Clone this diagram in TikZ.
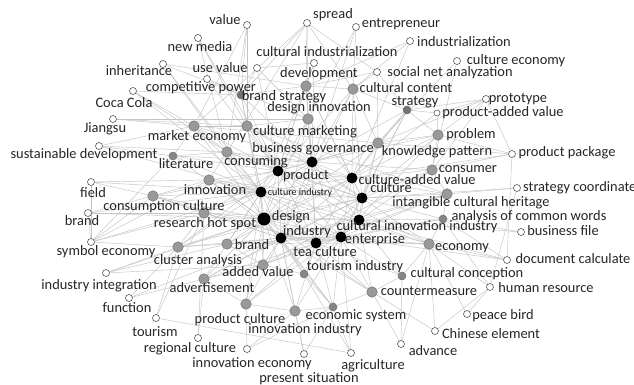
\documentclass[tikz,border=0pt]{standalone}
\usepackage{fontspec}
\setmainfont{Carlito}
\usetikzlibrary{backgrounds}
\tikzset{
  wn/.style={circle,draw=black!65,fill=white,line width=0.6pt,minimum size=7pt,inner sep=0pt},
  gn/.style={circle,draw=black!55,fill=black!40,line width=0.5pt,minimum size=10.5pt,inner sep=0pt},
  gs/.style={gn,fill=black!48,minimum size=8pt},
  bn/.style={circle,fill=black,minimum size=11pt,inner sep=0pt},
  lab/.style={font=\fontsize{14.4}{16}\selectfont,text=black!85,inner sep=0pt,text height=10pt,text depth=3pt},
  slab/.style={font=\fontsize{10}{12}\selectfont,text=black!90,inner sep=0pt,text height=7pt,text depth=2pt},
  edge/.style={draw=black!23,line width=0.45pt}
}
\begin{document}
\begin{tikzpicture}[x=1pt,y=-1pt]
\useasboundingbox (0,0) rectangle (634,385);
% ---- black core terms
\node[bn] (bg) at (312,162) {};
\node[bn] (prod) at (278,171) {};
\node[bn] (ci) at (261,192) {};
\node[bn] (cav) at (352,178) {};
\node[bn] (cul) at (362,198) {};
\node[bn,minimum size=13pt] (des) at (264,219) {};
\node[bn] (cii) at (359,220) {};
\node[bn] (ind) at (281,238) {};
\node[bn] (tea) at (316,243) {};
\node[bn] (ent) at (341,237) {};
% ---- gray terms
\node[gn] (development) at (306,86) {};
\node[gn] (designinnov) at (308,119) {};
\node[gs,fill=black!55] (brandstrategy) at (241,95) {};
\node[gn] (culturalcontent) at (353,89) {};
\node[gs,fill=black!55] (strategy) at (407,110) {};
\node[gn] (marketecon) at (194,126) {};
\node[gn] (culturemarketing) at (247,126) {};
\node[gs] (literature) at (173,156) {};
\node[gn] (consuming) at (227,152) {};
\node[gn] (knowledge) at (378,143) {};
\node[gn] (problem) at (438,135) {};
\node[gn] (consumer) at (432,170) {};
\node[gn] (innovation) at (209,180) {};
\node[gn] (consumpculture) at (153,196) {};
\node[gn] (researchhot) at (204,213) {};
\node[gn] (intangible) at (447,194) {};
\node[gs] (analysis) at (443,219) {};
\node[gn] (brandC) at (227,244) {};
\node[gn] (clusteranalysis) at (178,247) {};
\node[gn] (addedvalue) at (263,265) {};
\node[gs] (tourismind) at (304,274) {};
\node[gn] (economy) at (429,244) {};
\node[gs] (culturalconception) at (402,276) {};
\node[gn] (advertisement) at (204,279) {};
\node[gn] (countermeasure) at (372,292) {};
\node[gn] (productculture) at (246,304) {};
\node[gn] (innovind) at (295,311) {};
\node[gs] (economicsystem) at (333,307) {};
% ---- white terms
\node[wn] (value) at (247,25) {};
\node[wn] (spread) at (307,23) {};
\node[wn] (entrepreneur) at (356,27) {};
\node[wn] (industrialization) at (410,41) {};
\node[wn] (cultureeconomy) at (457,61) {};
\node[wn] (socialnet) at (377,72) {};
\node[wn] (cultind) at (314,63) {};
\node[wn] (newmedia) at (198,38) {};
\node[wn] (inheritance) at (163,64) {};
\node[wn] (usevalue) at (257,68) {};
\node[wn] (comppower) at (207,79) {};
\node[wn] (cocacola) at (133,91) {};
\node[wn] (jiangsu) at (113,119) {};
\node[wn] (sustdev) at (99,146) {};
\node[wn] (field) at (91,182) {};
\node[wn] (brandL) at (88,213) {};
\node[wn] (symbolecon) at (91,242) {};
\node[wn] (indinteg) at (106,273) {};
\node[wn] (function) at (129,298) {};
\node[wn] (tourism) at (156,318) {};
\node[wn] (regional) at (198,338) {};
\node[wn] (innovecon) at (247,349) {};
\node[wn] (presentsit) at (304,354) {};
\node[wn] (agriculture) at (351,353) {};
\node[wn] (advance) at (401,344) {};
\node[wn] (chinese) at (435,331) {};
\node[wn] (peacebird) at (467,314) {};
\node[wn] (humanres) at (490,287) {};
\node[wn] (doccalc) at (507,260) {};
\node[wn] (businessfile) at (521,232) {};
\node[wn] (stratcoord) at (517,188) {};
\node[wn] (prodpackage) at (512,154) {};
\node[wn] (prototype) at (486,99) {};
\node[wn,minimum size=6pt] (prodadded) at (437,113) {};
% ---- co-occurrence links
\begin{pgfonlayer}{background}
\fill[white] (0,0) rectangle (634,385);
\foreach \a [count=\i] in {bg,prod,ci,cav,cul,des,cii,ind,tea,ent}{
  \foreach \b [count=\j] in {bg,prod,ci,cav,cul,des,cii,ind,tea,ent}{
    \ifnum\j>\i \draw[edge] (\a) -- (\b); \fi
  }
}
\foreach \a/\b in {
 development/bg,development/prod,development/cav,development/ci,development/cul,
 designinnov/bg,designinnov/prod,designinnov/des,designinnov/cav,designinnov/ind,
 brandstrategy/prod,brandstrategy/ci,brandstrategy/des,brandstrategy/bg,
 culturalcontent/bg,culturalcontent/cav,culturalcontent/cul,culturalcontent/prod,
 strategy/cav,strategy/cul,strategy/bg,strategy/ent,
 marketecon/prod,marketecon/ci,marketecon/des,marketecon/bg,
 culturemarketing/bg,culturemarketing/prod,culturemarketing/ci,culturemarketing/cul,
 literature/ci,literature/des,literature/prod,
 consuming/bg,consuming/prod,consuming/ci,consuming/des,consuming/cul,
 knowledge/bg,knowledge/cav,knowledge/cul,knowledge/cii,knowledge/prod,
 problem/cav,problem/cul,problem/bg,problem/ent,
 consumer/cav,consumer/cul,consumer/cii,consumer/bg,
 innovation/ci,innovation/des,innovation/prod,innovation/ind,innovation/cul,
 consumpculture/ci,consumpculture/des,consumpculture/prod,consumpculture/ind,
 researchhot/ci,researchhot/des,researchhot/ind,researchhot/prod,researchhot/tea,
 intangible/cul,intangible/cii,intangible/ent,intangible/cav,intangible/tea,
 analysis/cii,analysis/ent,analysis/cul,analysis/tea,
 brandC/des,brandC/ind,brandC/ci,brandC/tea,brandC/ent,
 clusteranalysis/des,clusteranalysis/ci,clusteranalysis/ind,clusteranalysis/prod,
 addedvalue/des,addedvalue/ind,addedvalue/tea,addedvalue/ci,addedvalue/ent,
 tourismind/ind,tourismind/tea,tourismind/ent,tourismind/des,
 economy/cii,economy/ent,economy/cul,economy/tea,economy/ind,
 culturalconception/ent,culturalconception/cii,culturalconception/tea,
 advertisement/des,advertisement/ind,advertisement/ci,advertisement/tea,
 countermeasure/ent,countermeasure/tea,countermeasure/cii,countermeasure/ind,
 productculture/des,productculture/ind,productculture/tea,productculture/ci,
 innovind/ind,innovind/tea,innovind/des,innovind/ent,
 economicsystem/ind,economicsystem/tea,economicsystem/ent,economicsystem/des,
 development/designinnov,development/brandstrategy,development/culturalcontent,
 designinnov/culturemarketing,culturemarketing/marketecon,marketecon/literature,
 consuming/literature,consuming/innovation,innovation/consumpculture,
 researchhot/clusteranalysis,clusteranalysis/brandC,brandC/addedvalue,
 addedvalue/advertisement,advertisement/productculture,productculture/innovind,
 innovind/economicsystem,economicsystem/countermeasure,countermeasure/culturalconception,
 culturalconception/economy,economy/analysis,analysis/intangible,intangible/consumer,
 consumer/problem,problem/knowledge,knowledge/strategy,strategy/culturalcontent,
 knowledge/culturalcontent,tourismind/addedvalue,tourismind/economicsystem,
 marketecon/consuming,researchhot/consumpculture,problem/strategy,
 marketecon/knowledge,consuming/cav,culturemarketing/intangible,innovation/economy,
 researchhot/cii,clusteranalysis/cul,brandC/cav,addedvalue/consumer,advertisement/cul,
 literature/bg,consumpculture/tea,productculture/cii,countermeasure/des,
 economy/prod,intangible/ind,knowledge/des,designinnov/tea,culturalcontent/ind,
 value/brandstrategy,value/culturemarketing,value/marketecon,value/consuming,
 spread/brandstrategy,spread/marketecon,spread/development,spread/culturalcontent,
 spread/socialnet,spread/designinnov,spread/consuming,
 entrepreneur/culturalcontent,entrepreneur/designinnov,entrepreneur/bg,
 industrialization/culturalcontent,industrialization/development,industrialization/cav,
 cultureeconomy/knowledge,cultureeconomy/consumer,
 socialnet/development,socialnet/culturalcontent,socialnet/knowledge,socialnet/strategy,
 cultind/development,cultind/prod,cultind/bg,cultind/usevalue,
 newmedia/culturemarketing,newmedia/consuming,newmedia/prod,
 inheritance/brandstrategy,inheritance/consuming,inheritance/ci,inheritance/development,
 usevalue/brandstrategy,usevalue/prod,usevalue/designinnov,
 comppower/brandstrategy,comppower/designinnov,comppower/prod,
 cocacola/brandstrategy,cocacola/consuming,cocacola/marketecon,cocacola/ci,
 jiangsu/marketecon,jiangsu/designinnov,jiangsu/culturemarketing,
 sustdev/literature,sustdev/consuming,sustdev/ci,sustdev/marketecon,
 field/innovation,field/ci,field/consumpculture,
 brandL/researchhot,brandL/ci,brandL/des,brandL/consumpculture,
 symbolecon/field,symbolecon/brandL,symbolecon/consumpculture,symbolecon/clusteranalysis,
 symbolecon/innovation,symbolecon/researchhot,symbolecon/ci,symbolecon/literature,
 indinteg/clusteranalysis,indinteg/addedvalue,indinteg/brandC,indinteg/des,
 function/advertisement,function/clusteranalysis,function/ind,
 tourism/clusteranalysis,tourism/researchhot,tourism/agriculture,
 regional/advertisement,regional/researchhot,
 innovecon/productculture,innovecon/economicsystem,innovecon/innovind,
 presentsit/innovind,presentsit/economicsystem,presentsit/ind,
 agriculture/economicsystem,agriculture/ent,agriculture/tourismind,
 advance/economy,advance/culturalconception,advance/countermeasure,
 chinese/countermeasure,chinese/economy,chinese/humanres,
 peacebird/humanres,peacebird/economy,
 humanres/stratcoord,humanres/economy,humanres/analysis,
 doccalc/economy,doccalc/cii,doccalc/prodpackage,doccalc/ent,doccalc/analysis,
 businessfile/analysis,businessfile/cii,
 stratcoord/intangible,stratcoord/cul,
 prodpackage/knowledge,prodpackage/consumer,prodpackage/cav,prodpackage/prototype,prodpackage/problem,
 prototype/strategy,prototype/knowledge,prototype/prodadded,prototype/consumer,prototype/problem,
 prodadded/strategy,prodadded/cav,prodadded/problem}
 \draw[edge] (\a) -- (\b);
\end{pgfonlayer}
% ---- labels
\node[lab] (l-bg) at (313,149) {business governance};
\node[lab] (l-prod) at (306,176) {product};
\node[slab] (l-ci) at (300,193) {culture industry};
\node[lab] (l-cav) at (417,181) {culture-added value};
\node[lab] (l-cul) at (391,189) {culture};
\node[lab] (l-des) at (291,217) {design};
\node[lab] (l-cii) at (417,227) {cultural innovation industry};
\node[lab] (l-ind) at (307,232) {industry};
\node[lab] (l-tea) at (325,253) {tea culture};
\node[lab] (l-ent) at (375,240) {enterprise};
\node[lab] (l-development) at (319,74) {development};
\node[lab] (l-designinnov) at (319,108) {design innovation};
\node[lab] (l-brandstrategy) at (284,97) {brand strategy};
\node[lab] (l-culturalcontent) at (406,89) {cultural content};
\node[lab] (l-strategy) at (415,102) {strategy};
\node[lab] (l-marketecon) at (197,137) {market economy};
\node[lab] (l-culturemarketing) at (305,132) {culture marketing};
\node[lab] (l-literature) at (186,165) {literature};
\node[lab] (l-consuming) at (256,162) {consuming};
\node[lab] (l-knowledge) at (437,152) {knowledge pattern};
\node[lab] (l-problem) at (471,135) {problem};
\node[lab] (l-consumer) at (468,169) {consumer};
\node[lab] (l-innovation) at (215,191) {innovation};
\node[lab] (l-consumpculture) at (164,207) {consumption culture};
\node[lab] (l-researchhot) at (205,224) {research hot spot};
\node[lab] (l-intangible) at (471,203) {intangible cultural heritage};
\node[lab] (l-analysis) at (529,217) {analysis of common words};
\node[lab] (l-brandC) at (252,246) {brand};
\node[lab] (l-clusteranalysis) at (198,261) {cluster analysis};
\node[lab] (l-addedvalue) at (258,273) {added value};
\node[lab] (l-tourismind) at (355,267) {tourism industry};
\node[lab] (l-economy) at (462,247) {economy};
\node[lab] (l-culturalconception) at (467,274) {cultural conception};
\node[lab] (l-advertisement) at (212,289) {advertisement};
\node[lab] (l-countermeasure) at (429,292) {countermeasure};
\node[lab] (l-productculture) at (240,320) {product culture};
\node[lab] (l-innovind) at (305,330) {innovation industry};
\node[lab] (l-economicsystem) at (356,316) {economic system};
\node[lab] (l-value) at (225,21) {value};
\node[lab] (l-spread) at (333,15) {spread};
\node[lab] (l-entrepreneur) at (401,24) {entrepreneur};
\node[lab] (l-industrialization) at (464,43) {industrialization};
\node[lab] (l-cultureeconomy) at (516,61) {culture economy};
\node[lab] (l-socialnet) at (450,73) {social net analyzation};
\node[lab] (l-cultind) at (327,53) {cultural industrialization};
\node[lab] (l-newmedia) at (200,48) {new media};
\node[lab] (l-inheritance) at (139,72) {inheritance};
\node[lab] (l-usevalue) at (220,69) {use value};
\node[lab] (l-comppower) at (201,88) {competitive power};
\node[lab] (l-cocacola) at (124,104) {Coca Cola};
\node[lab] (l-jiangsu) at (105,129) {Jiangsu};
\node[lab] (l-sustdev) at (84,155) {sustainable development};
\node[lab] (l-field) at (93,194) {field};
\node[lab] (l-brandL) at (82,222) {brand};
\node[lab] (l-symbolecon) at (106,252) {symbol economy};
\node[lab] (l-indinteg) at (99,286) {industry integration};
\node[lab] (l-function) at (127,309) {function};
\node[lab] (l-tourism) at (155,333) {tourism};
\node[lab] (l-regional) at (190,349) {regional culture};
\node[lab] (l-innovecon) at (252,364) {innovation economy};
\node[lab] (l-presentsit) at (309,379) {present situation};
\node[lab] (l-agriculture) at (373,366) {agriculture};
\node[lab] (l-advance) at (433,352) {advance};
\node[lab] (l-chinese) at (491,335) {Chinese element};
\node[lab] (l-peacebird) at (503,316) {peace bird};
\node[lab] (l-humanres) at (546,289) {human resource};
\node[lab] (l-doccalc) at (573,260) {document calculate};
\node[lab] (l-businessfile) at (563,232) {business file};
\node[lab,anchor=west] (l-stratcoord) at (523,188) {strategy coordinate};
\node[lab] (l-prodpackage) at (567,153) {product package};
\node[lab] (l-prototype) at (518,99) {prototype};
\node[lab] (l-prodadded) at (503,113) {product-added value};
\end{tikzpicture}
\end{document}
